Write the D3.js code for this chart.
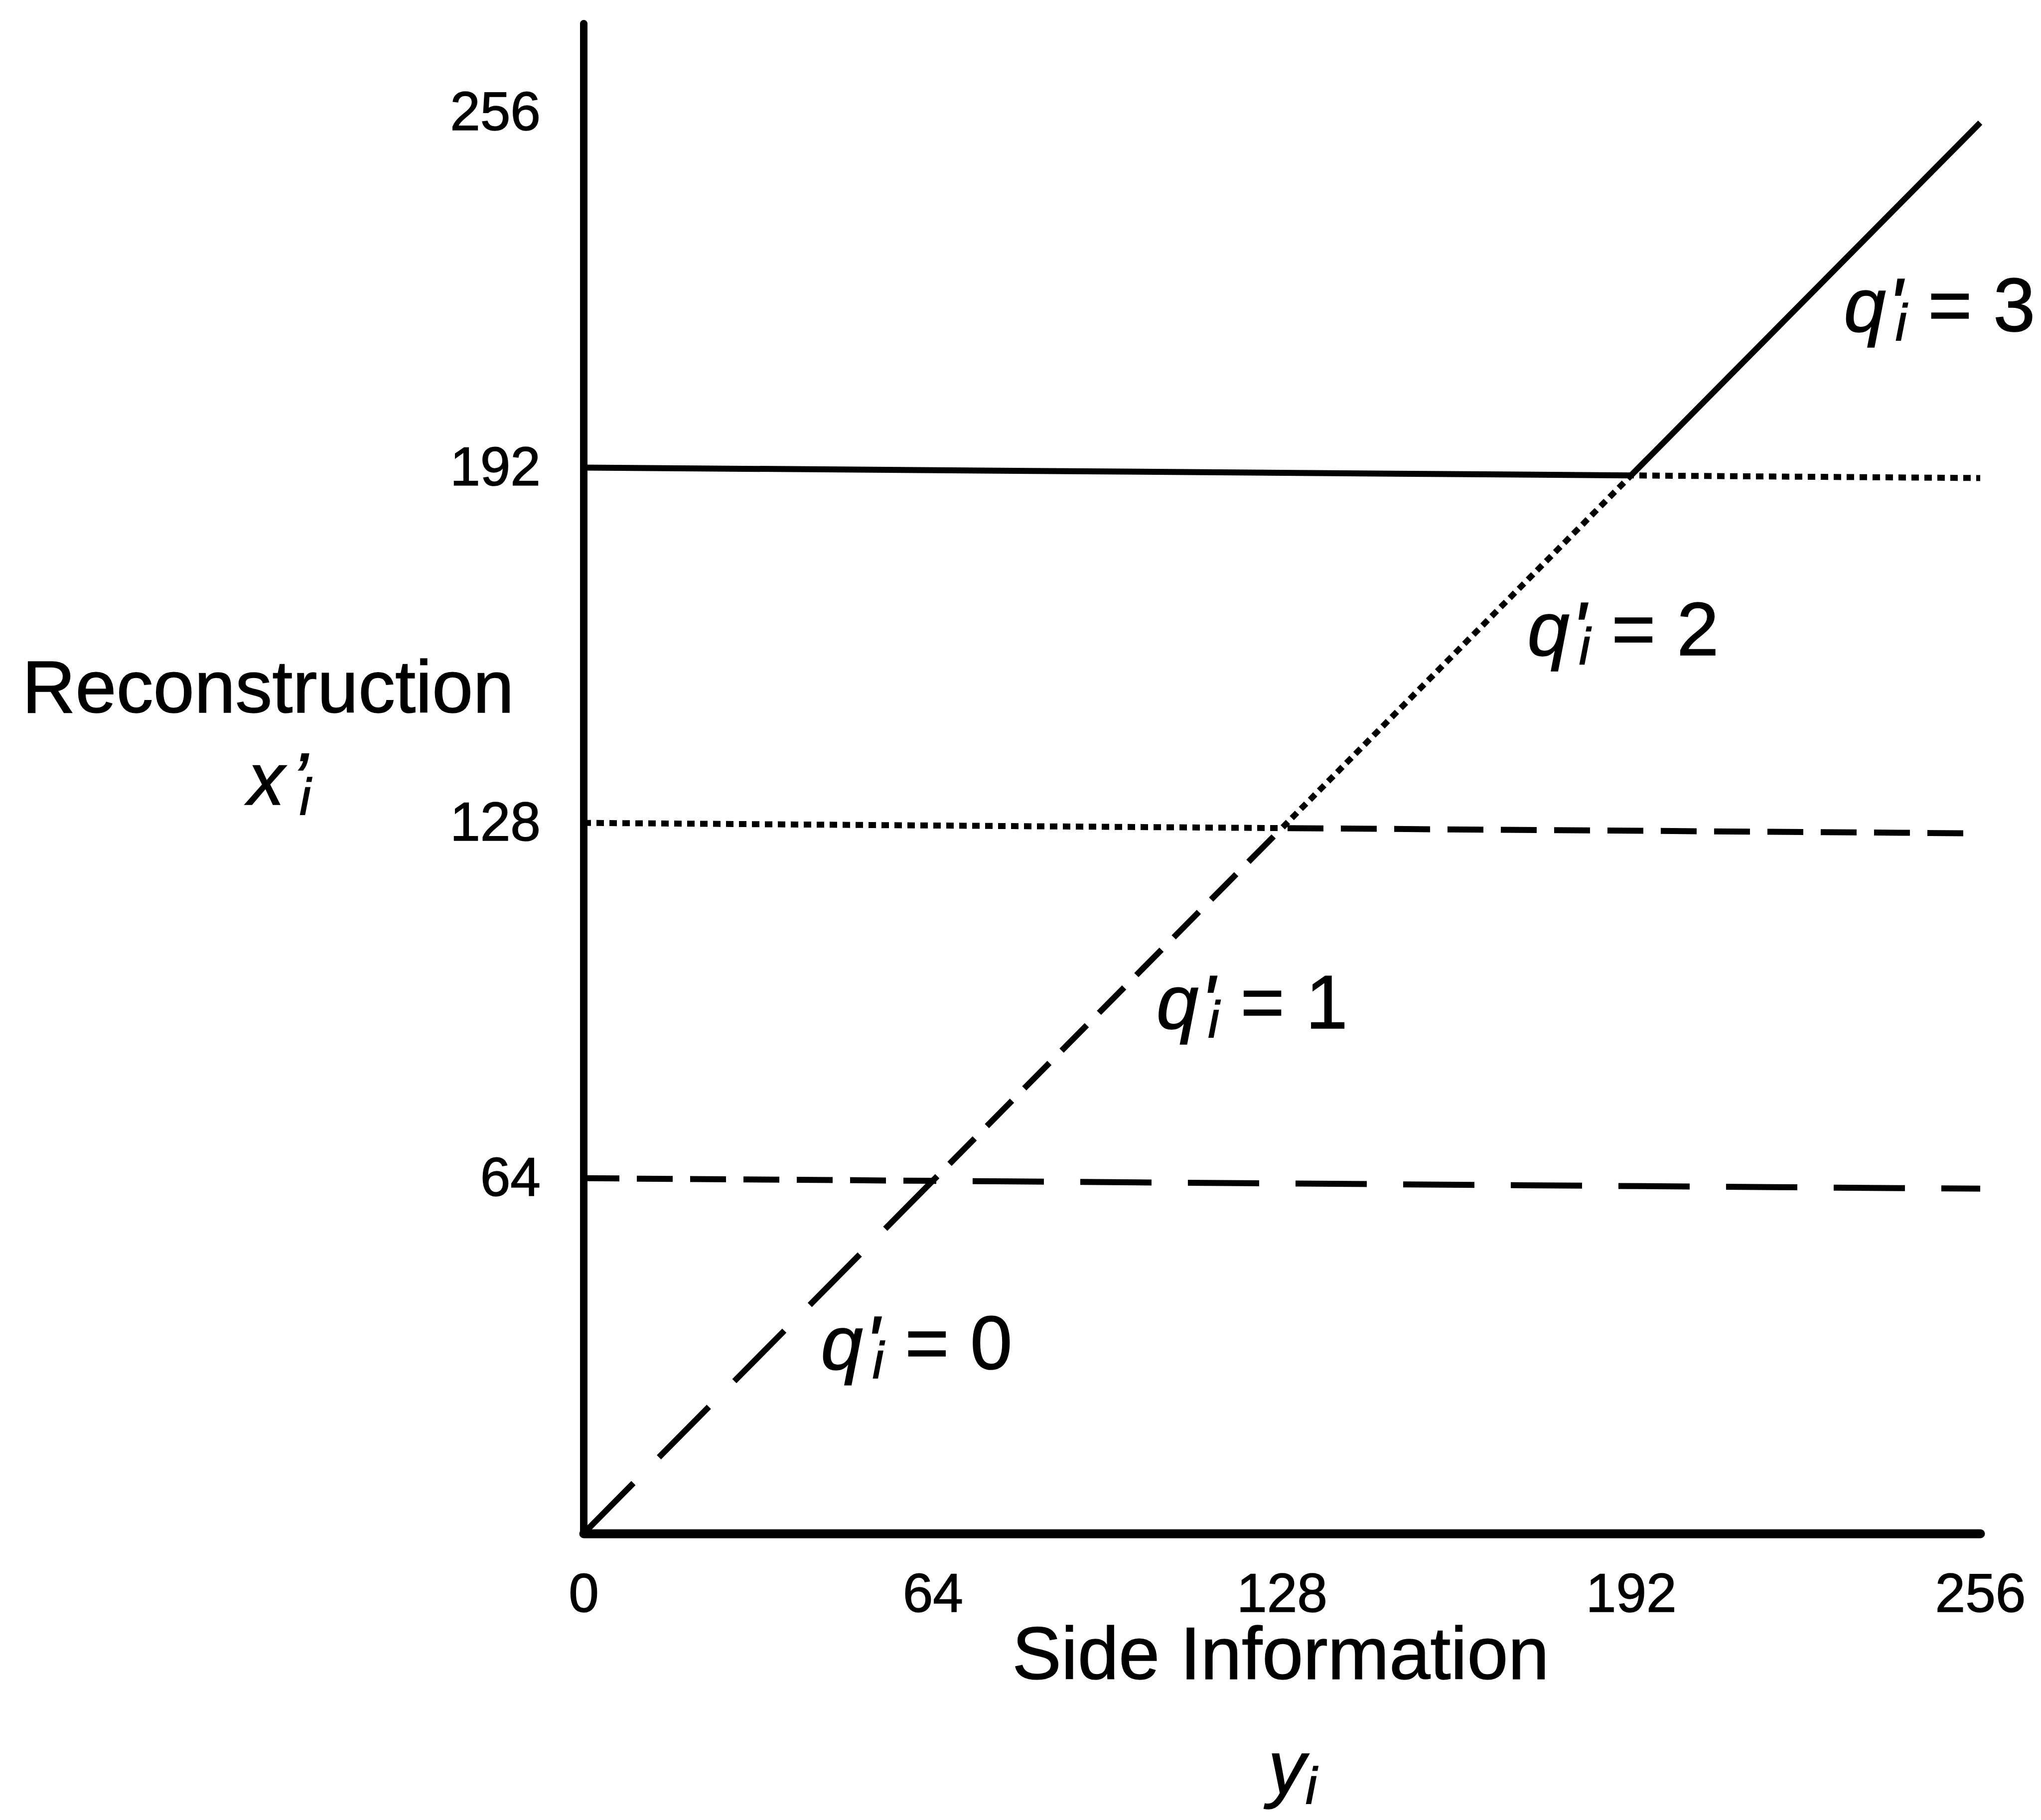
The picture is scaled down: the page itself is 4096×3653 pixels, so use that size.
<!DOCTYPE html>
<html>
<head>
<meta charset="utf-8">
<script src="https://cdn.jsdelivr.net/npm/d3@7"></script>
<style>
  body { margin: 0; background: #fff; }
  svg text { font-family: "Liberation Sans", Arial, Helvetica, sans-serif; fill: #000; stroke: #000; stroke-width: 1.5px; }
</style>
</head>
<body>
<div id="chart"></div>
<script>
// Tick values
const xTicks = [0, 64, 128, 192, 256];
const yTicks = [64, 128, 192, 256];

// Reconstruction curves, one per coset index q'_i : [side information y_i, reconstruction x'_i]
const curveQ0 = [[0, 0], [64, 64], [256, 64]];
const curveQ1 = [[0, 64], [64, 64], [128, 128], [256, 128]];
const curveQ2 = [[0, 128], [128, 128], [192, 192], [256, 192]];
const curveQ3 = [[0, 192], [192, 192], [256, 256]];

const qValues = [0, 1, 2, 3];

class ReconstructionChart {

    constructor(_config) {
        this.config = {
            parentElement: _config.parentElement,
            containerWidth: 4096,
            containerHeight: 3653,
            margin: { top: 47, right: 122, bottom: 575, left: 1171 },
            yMax: 272,              // the y axis line runs a bit past 256
            skew: 0.43,             // the scanned plot lines drop slightly to the right
            lineWidth: 12,
            dashes: ["143 73", "72 35", "15 11", null],
            // where each q'_i label starts, in data units (y_i, x'_i)
            labelAt: [[43.5, 29.6], [105, 91], [173, 158.2], [231, 216.5]]
        };
        this.initVis();
    }

    initVis() {
        let vis = this;
        const c = vis.config;

        vis.width = c.containerWidth - c.margin.left - c.margin.right;
        vis.height = c.containerHeight - c.margin.top - c.margin.bottom;

        vis.svg = d3.select(c.parentElement)
            .append('svg')
            .attr('width', c.containerWidth)
            .attr('height', c.containerHeight)
            .style('background', '#fff');

        vis.xScale = d3.scaleLinear()
            .domain([0, 256])
            .range([c.margin.left, c.margin.left + vis.width]);

        vis.yScale = d3.scaleLinear()
            .domain([0, c.yMax])
            .range([c.margin.top + vis.height, c.margin.top]);

        // Plot lines (slightly sheared like the original)
        const plot = vis.svg.append('g')
            .attr('transform', `translate(${c.margin.left},0) skewY(${c.skew}) translate(${-c.margin.left},0)`);

        const line = d3.line()
            .x(d => vis.xScale(d[0]))
            .y(d => vis.yScale(d[1]));

        const curves = [curveQ0, curveQ1, curveQ2, curveQ3];
        plot.selectAll('.curve')
            .data(curves)
            .enter().append('path')
            .attr('class', 'curve')
            .attr('d', line)
            .attr('fill', 'none')
            .attr('stroke', '#000')
            .attr('stroke-width', c.lineWidth)
            .attr('stroke-linejoin', 'round')
            .attr('stroke-dasharray', (d, i) => c.dashes[i]);

        // Axes
        vis.xAxis = d3.axisBottom(vis.xScale)
            .tickValues(xTicks)
            .tickSize(0)
            .tickSizeOuter(0)
            .tickPadding(80);

        vis.yAxis = d3.axisLeft(vis.yScale)
            .tickValues(yTicks)
            .tickSize(0)
            .tickSizeOuter(0)
            .tickPadding(86);

        const gx = vis.svg.append('g')
            .attr('class', 'x-axis')
            .attr('transform', `translate(0, ${vis.yScale(0)})`)
            .call(vis.xAxis);

        const gy = vis.svg.append('g')
            .attr('class', 'y-axis')
            .attr('transform', `translate(${vis.xScale(0)}, 0)`)
            .call(vis.yAxis);

        gx.select('.domain').attr('stroke', '#000').attr('stroke-width', 18).attr('stroke-linecap', 'round');
        gy.select('.domain').attr('stroke', '#000').attr('stroke-width', 15).attr('stroke-linecap', 'round');

        vis.svg.selectAll('.tick text')
            .attr('font-size', 109)
            .attr('font-family', '"Liberation Sans", Arial, sans-serif')
            .attr('fill', '#000');

        // Axis titles
        vis.svg.append('text')
            .attr('x', 538)
            .attr('y', 1430)
            .attr('text-anchor', 'middle')
            .attr('font-size', 148)
            .text('Reconstruction');

        const xl = vis.svg.append('text')
            .attr('x', 497)
            .attr('y', 1615)
            .attr('font-size', 148);
        xl.append('tspan').attr('font-style', 'italic').text('x');
        xl.append('tspan').attr('font-style', 'italic').attr('dx', 14).text('\u2019');
        xl.append('tspan').attr('font-style', 'italic').attr('font-size', 103)
            .attr('dx', -17).attr('dy', 20).text('i');

        vis.svg.append('text')
            .attr('x', 2570)
            .attr('y', 3370)
            .attr('text-anchor', 'middle')
            .attr('font-size', 148)
            .text('Side Information');

        const yl = vis.svg.append('text')
            .attr('x', 2545)
            .attr('y', 3600)
            .attr('font-size', 150);
        yl.append('tspan').attr('font-style', 'italic').text('y');
        yl.append('tspan').attr('font-style', 'italic').attr('font-size', 103)
            .attr('dy', 20).text('i');

        // q'_i labels
        qValues.forEach((q, i) => {
            const t = vis.svg.append('text')
                .attr('x', vis.xScale(c.labelAt[i][0]))
                .attr('y', vis.yScale(c.labelAt[i][1]))
                .attr('font-size', 152);
            t.append('tspan').attr('font-style', 'italic').text('q');
            t.append('tspan').attr('font-style', 'italic').attr('dx', 4).text("'");
            t.append('tspan').attr('font-style', 'italic').attr('font-size', 103)
                .attr('dx', -14).attr('dy', 18).text('i');
            t.append('tspan').attr('dy', -18).text(` = ${q}`);
        });
    }
}

new ReconstructionChart({ parentElement: '#chart' });
</script>
</body>
</html>
